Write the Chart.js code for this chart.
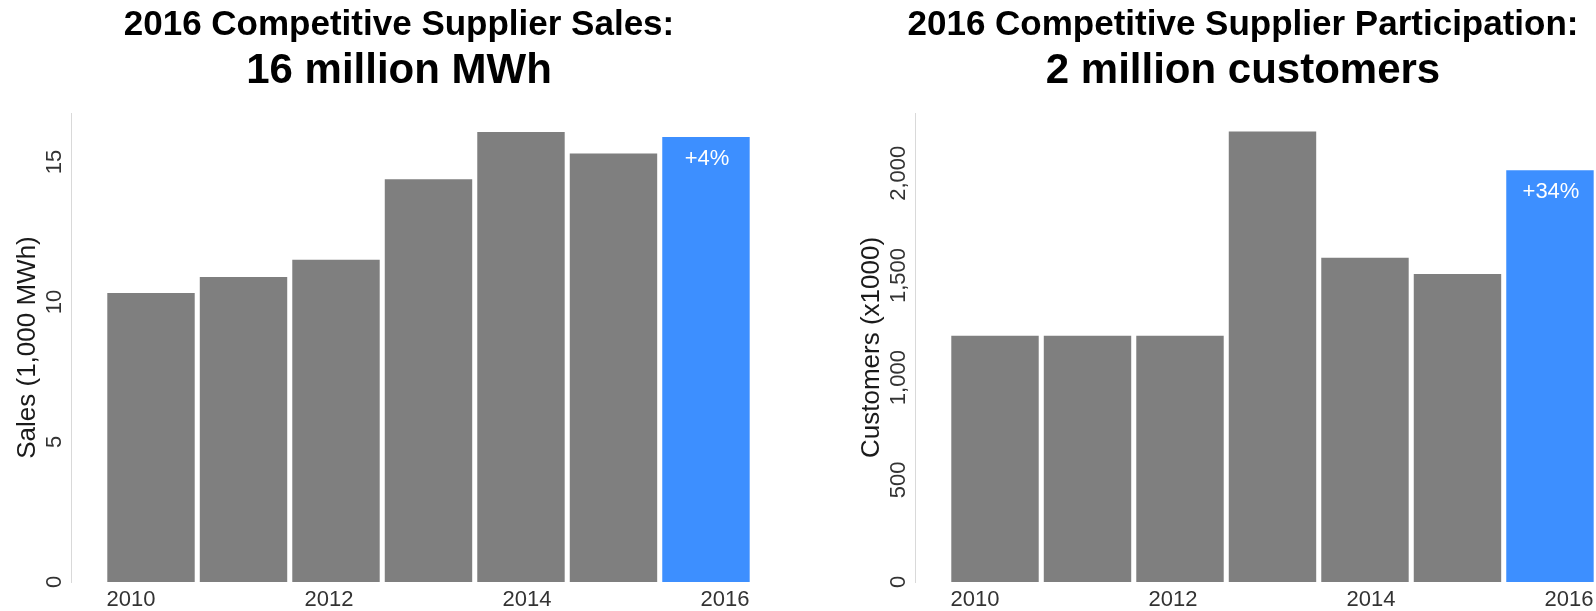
<!DOCTYPE html>
<html><head><meta charset="utf-8">
<script src="https://cdn.jsdelivr.net/npm/chart.js@4.4.1/dist/chart.umd.min.js"></script>
<style>
html,body{margin:0;padding:0;background:#fff;width:1596px;height:611px;overflow:hidden;position:relative}
.panel{position:absolute;top:0;width:798px;height:611px}
#p1{left:0}
#p2{left:844px}
</style></head><body>
<div class="panel" id="p1"><canvas id="c1"></canvas></div>
<div class="panel" id="p2"><canvas id="c2"></canvas></div>
<script>
const years = [2010, 2011, 2012, 2013, 2014, 2015, 2016];
const xTickYears = [2010, 2012, 2014, 2016];
const salesValues = [10.32, 10.89, 11.51, 14.38, 16.07, 15.30, 15.89];
const customerValues = [1205, 1205, 1205, 2204, 1587, 1507, 2015];
const salesTicks = [0, 5, 10, 15];
const customerTicks = [0, 500, 1000, 1500, 2000];
const salesChange = ['', '', '', '', '', '', '+4%'];
const customerChange = ['', '', '', '', '', '', '+34%'];

const FONT = "'Liberation Sans', Arial, Helvetica, sans-serif";
const GRAY = '#7f7f7f';
const BLUE = '#3d8fff';

const rotTicks = {
  id: 'rotTicks',
  afterDraw(chart, args, opts) {
    const s = chart.scales.y, ctx = chart.ctx;
    ctx.save();
    ctx.fillStyle = '#333';
    ctx.font = '22px ' + FONT;
    ctx.textAlign = 'center';
    ctx.textBaseline = 'middle';
    opts.values.forEach(v => {
      ctx.save();
      ctx.translate(s.right - 16, s.getPixelForValue(v));
      ctx.rotate(-Math.PI / 2);
      ctx.fillText(v.toLocaleString('en-US'), 0, 0);
      ctx.restore();
    });
    ctx.restore();
  }
};

const barLabels = {
  id: 'barLabels',
  afterDatasetsDraw(chart, args, opts) {
    const meta = chart.getDatasetMeta(0), ctx = chart.ctx;
    ctx.save();
    ctx.fillStyle = '#fff';
    ctx.font = '22px ' + FONT;
    ctx.textAlign = 'center';
    ctx.textBaseline = 'middle';
    opts.labels.forEach((t, i) => {
      if (!t) return;
      const b = meta.data[i];
      ctx.fillText(t, b.x + 1, b.y + 22);
    });
    ctx.restore();
  }
};

function makeChart(id, cfg) {
  const n = cfg.values.length;
  return new Chart(document.getElementById(id), {
    type: 'bar',
    data: {
      datasets: [{
        data: years.map((yr, i) => ({ x: yr, y: cfg.values[i] })),
        backgroundColor: c => (c.dataIndex === n - 1 ? BLUE : GRAY),
        borderWidth: 0,
        barPercentage: 0.95,
        categoryPercentage: 1,
        xAxisID: 'x',
        yAxisID: 'y'
      }]
    },
    options: {
      responsive: true,
      maintainAspectRatio: false,
      animation: false,
      events: [],
      layout: { padding: 0 },
      plugins: {
        legend: { display: false },
        tooltip: { enabled: false },
        title: {
          display: true, text: cfg.title, color: '#000',
          font: { family: FONT, size: 35, weight: 'bold' },
          padding: { top: 4, bottom: 0 }
        },
        subtitle: {
          display: true, text: cfg.subtitle, color: '#000',
          font: { family: FONT, size: 42, weight: 'bold' },
          padding: { top: 0, bottom: 16.6 }
        },
        rotTicks: { values: cfg.ticks },
        barLabels: { labels: cfg.change }
      },
      scales: {
        x: {
          type: 'linear', display: false, offset: false,
          min: 2009.135, max: 2016.995
        },
        xl: {
          type: 'linear', position: 'bottom', offset: false,
          min: 2009.394, max: 2016.737,
          grid: { display: false, drawTicks: false },
          border: { display: false },
          afterBuildTicks: s => { s.ticks = xTickYears.map(v => ({ value: v })); },
          ticks: {
            color: '#333', font: { family: FONT, size: 22 }, padding: 5,
            maxRotation: 0, minRotation: 0, autoSkip: false,
            callback: v => String(v)
          },
          afterFit: s => { s.height = 29; }
        },
        y: {
          min: 0, max: cfg.max,
          grid: { display: false, drawTicks: false },
          border: { display: true, color: '#d9d9d9', width: 1 },
          ticks: { display: false },
          title: {
            display: true, text: cfg.yTitle, color: '#1a1a1a',
            font: { family: FONT, size: 26 },
            padding: { top: 12, bottom: 0 }
          },
          afterFit: s => { s.width = 71; }
        }
      }
    },
    plugins: [rotTicks, barLabels]
  });
}

makeChart('c1', {
  values: salesValues, ticks: salesTicks, change: salesChange, max: 16.75,
  title: '2016 Competitive Supplier Sales:', subtitle: '16 million MWh',
  yTitle: 'Sales (1,000 MWh)'
});
makeChart('c2', {
  values: customerValues, ticks: customerTicks, change: customerChange, max: 2295,
  title: '2016 Competitive Supplier Participation:', subtitle: '2 million customers',
  yTitle: 'Customers (x1000)'
});
</script>
</body></html>
